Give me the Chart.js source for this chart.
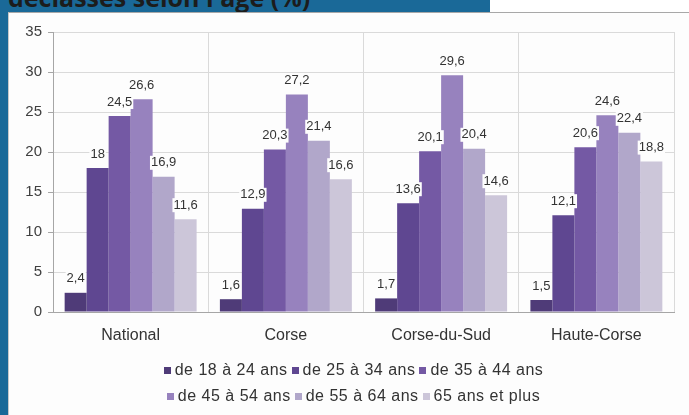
<!DOCTYPE html>
<html lang="fr">
<head>
<meta charset="utf-8">
<script src="https://cdn.jsdelivr.net/npm/chart.js@4.4.1/dist/chart.umd.min.js"></script>
<style>
  html, body { margin: 0; padding: 0; background: #fff; }
  body { width: 689px; height: 415px; position: relative; overflow: hidden; font-family: "Liberation Sans", Arial, sans-serif; }
  #bandeHaut { position: absolute; left: 0; top: 0; width: 490px; height: 12px; background: #1a6998; overflow: hidden; }
  #titre { position: absolute; left: 8px; top: -20px; font: bold 25px "Open Sans", "Liberation Sans", sans-serif; color: #1c1c1c; white-space: nowrap; }
  #bandeGauche { position: absolute; left: 0; top: 0; width: 8px; height: 415px; background: #1a6998; }
  #panneau { position: absolute; left: 8px; top: 12px; width: 681px; height: 403px; background: #fdfdfd; border-top: 1px solid #a8a8a8; border-left: 1px solid #c8c8c8; box-sizing: border-box; }
  #zone { position: absolute; left: 8px; top: 12px; width: 681px; height: 403px; }
  #legende { position: absolute; left: 8px; width: 681px; top: 357px; font-size: 16px; letter-spacing: 0.5px; color: #333; }
  .ligne { display: flex; justify-content: center; height: 26px; align-items: center; padding-left: 14px; }
  .item { display: flex; align-items: center; margin-right: 4px; white-space: nowrap; }
  .carre { width: 7px; height: 7px; margin-right: 4px; }
</style>
</head>
<body>
<div id="bandeHaut"><div id="titre">déclassés selon l'âge (%)</div></div>
<div id="bandeGauche"></div>
<div id="panneau"></div>
<div id="zone"><canvas id="graphique" width="681" height="403"></canvas></div>
<div id="legende"></div>

<script>
// ===== DONNÉES =====
const categories = ['National', 'Corse', 'Corse-du-Sud', 'Haute-Corse'];
const tranches = ['de 18 à 24 ans', 'de 25 à 34 ans', 'de 35 à 44 ans', 'de 45 à 54 ans', 'de 55 à 64 ans', '65 ans et plus'];

const de18a24 = [2.4, 1.6, 1.7, 1.5];
const de25a34 = [18, 12.9, 13.6, 12.1];
const de35a44 = [24.5, 20.3, 20.1, 20.6];
const de45a54 = [26.6, 27.2, 29.6, 24.6];
const de55a64 = [16.9, 21.4, 20.4, 22.4];
const plus65 = [11.6, 16.6, 14.6, 18.8];

const yTicks = [0, 5, 10, 15, 20, 25, 30, 35];

const couleurs = ['#4f3b78', '#5f4791', '#7459a4', '#9782be', '#b1a7ca', '#ccc6d9'];
const series = [de18a24, de25a34, de35a44, de45a54, de55a64, plus65];

// étiquettes de valeurs (virgule décimale, fond blanc)
const etiquettes = {
  id: 'etiquettes',
  afterDatasetsDraw(chart) {
    const ctx = chart.ctx;
    ctx.save();
    ctx.font = '13px "Liberation Sans", Arial, sans-serif';
    ctx.textAlign = 'center';
    ctx.textBaseline = 'middle';
    chart.data.datasets.forEach((ds, i) => {
      chart.getDatasetMeta(i).data.forEach((bar, j) => {
        const txt = String(ds.data[j]).replace('.', ',');
        const w = ctx.measureText(txt).width;
        const y = bar.y - 14;
        ctx.fillStyle = '#fdfdfd';
        ctx.fillRect(bar.x - w / 2 - 1, y - 7, w + 2, 14);
        ctx.fillStyle = '#333';
        ctx.fillText(txt, bar.x, y);
      });
    });
    ctx.restore();
  }
};

const chart = new Chart(document.getElementById('graphique'), {
  type: 'bar',
  data: {
    labels: categories,
    datasets: series.map((vals, i) => ({
      label: tranches[i],
      data: vals,
      backgroundColor: couleurs[i],
      borderWidth: 0,
      categoryPercentage: 0.85,
      barPercentage: 1.0
    }))
  },
  options: {
    responsive: false,
    animation: false,
    layout: { padding: { left: 0, right: 15, top: 20, bottom: 0 } },
    plugins: {
      legend: { display: false },
      tooltip: { enabled: false }
    },
    scales: {
      x: {
        offset: true,
        grid: { color: '#dadada', offset: true, drawTicks: false },
        border: { color: '#a6a6a6' },
        ticks: { color: '#333', padding: 14, font: { size: 16, family: '"Liberation Sans", Arial, sans-serif' } },
        afterFit: s => { s.height = 103; }
      },
      y: {
        min: 0,
        max: 35,
        afterBuildTicks: s => { s.ticks = yTicks.map(v => ({ value: v })); },
        grid: { color: '#dadada', tickLength: 5, tickColor: '#a6a6a6' },
        border: { color: '#a6a6a6' },
        ticks: { color: '#404040', padding: 6, font: { size: 15, family: '"Liberation Sans", Arial, sans-serif' } },
        afterFit: s => { s.width = 45; }
      }
    }
  },
  plugins: [etiquettes]
});

// ===== LÉGENDE (3 + 3) =====
const legende = document.getElementById('legende');
[[0, 1, 2], [3, 4, 5]].forEach(rangee => {
  const ligne = document.createElement('div');
  ligne.className = 'ligne';
  rangee.forEach(i => {
    const item = document.createElement('div');
    item.className = 'item';
    item.innerHTML = `<span class="carre" style="background:${couleurs[i]}"></span>${tranches[i]}`;
    ligne.appendChild(item);
  });
  legende.appendChild(ligne);
});
</script>
</body>
</html>
